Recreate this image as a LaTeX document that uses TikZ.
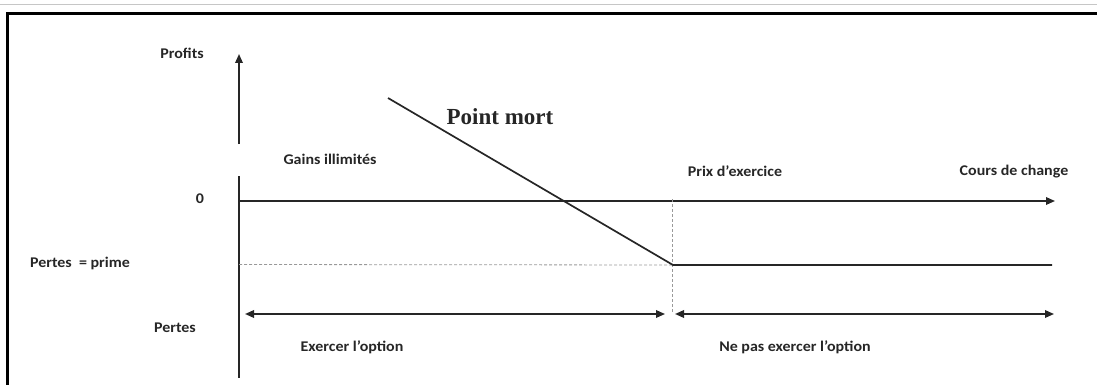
\documentclass[tikz,border=0pt]{standalone}
\usepackage{fontspec}
\setmainfont{Carlito}
\newfontfamily\serifbf{Liberation Serif}
\usetikzlibrary{arrows.meta}
\definecolor{ink}{HTML}{262626}
\tikzset{
  lbl/.style={inner sep=0pt, text=ink, font=\fontsize{14.8}{16}\selectfont\bfseries},
  ln/.style={draw=ink, line width=1.7pt},
  arr/.style={ln, -{Triangle[length=9pt,width=7.5pt]}},
  darr/.style={ln, {Triangle[length=9pt,width=7.5pt]}-{Triangle[length=9pt,width=7.5pt]}},
  dsh/.style={draw=gray!80, line width=0.8pt, dash pattern=on 3pt off 2pt},
}
\newcommand{\sx}[1]{\scalebox{1.08}[1]{#1}}
\begin{document}
\begin{tikzpicture}[x=1pt,y=1pt]
\useasboundingbox (0,0) rectangle (1097,-385);
% page lines
\draw[gray!45, line width=1pt] (0,-5) -- (1097,-5);
\draw[black, line width=2.2pt] (1097,-13.5) -- (7.5,-13.5) -- (7.5,-385);
% coordinates
\coordinate (yb) at (239,-144);
\coordinate (yt) at (239,-54);
\coordinate (lb1) at (239,-176);
\coordinate (lb2) at (239,-378);
\coordinate (o) at (239,-201);
\coordinate (xe) at (1055,-201);
\coordinate (d0) at (239,-264.5);
\coordinate (k) at (673,-265);
\coordinate (p0) at (388,-98);
\coordinate (pe) at (1052,-265);
\coordinate (kt) at (672,-199);
\coordinate (kb) at (672,-313);
\coordinate (a1) at (245,-314);
\coordinate (a2) at (665,-314);
\coordinate (a3) at (675,-314);
\coordinate (a4) at (1054,-314);
% axes
\draw[arr] (yb) -- (yt);
\draw[ln] (lb1) -- (lb2);
\draw[arr] (o) -- (xe);
% dashed
\draw[dsh] (d0) -- (k);
\draw[dsh] (kt) -- (kb);
% payoff
\draw[ln, line join=round] (p0) -- (k) -- (pe);
% ranges
\draw[darr] (a1) -- (a2);
\draw[darr] (a3) -- (a4);
% labels
\node[lbl] (profits) at (182,-53) {\sx{Profits}};
\node[lbl] (gains) at (330,-159) {\sx{Gains illimités}};
\node[lbl] (zero) at (200,-199) {\sx{0}};
\node[lbl] (prix) at (735,-171) {\sx{Prix d’exercice}};
\node[lbl] (cours) at (1014,-172) {\sx{Cours de change}};
\node[lbl] (prime) at (80,-263) {\sx{Pertes\ \ = prime}};
\node[lbl] (pertes) at (175,-328) {\sx{Pertes}};
\node[lbl] (exer) at (352,-347) {\sx{Exercer l’option}};
\node[lbl] (nepas) at (795,-347) {\sx{Ne pas exercer l’option}};
\node[inner sep=0pt, text=ink, font=\fontsize{23}{24}\selectfont\serifbf\bfseries] (pm) at (500,-117) {Point mort};
\end{tikzpicture}
\end{document}
